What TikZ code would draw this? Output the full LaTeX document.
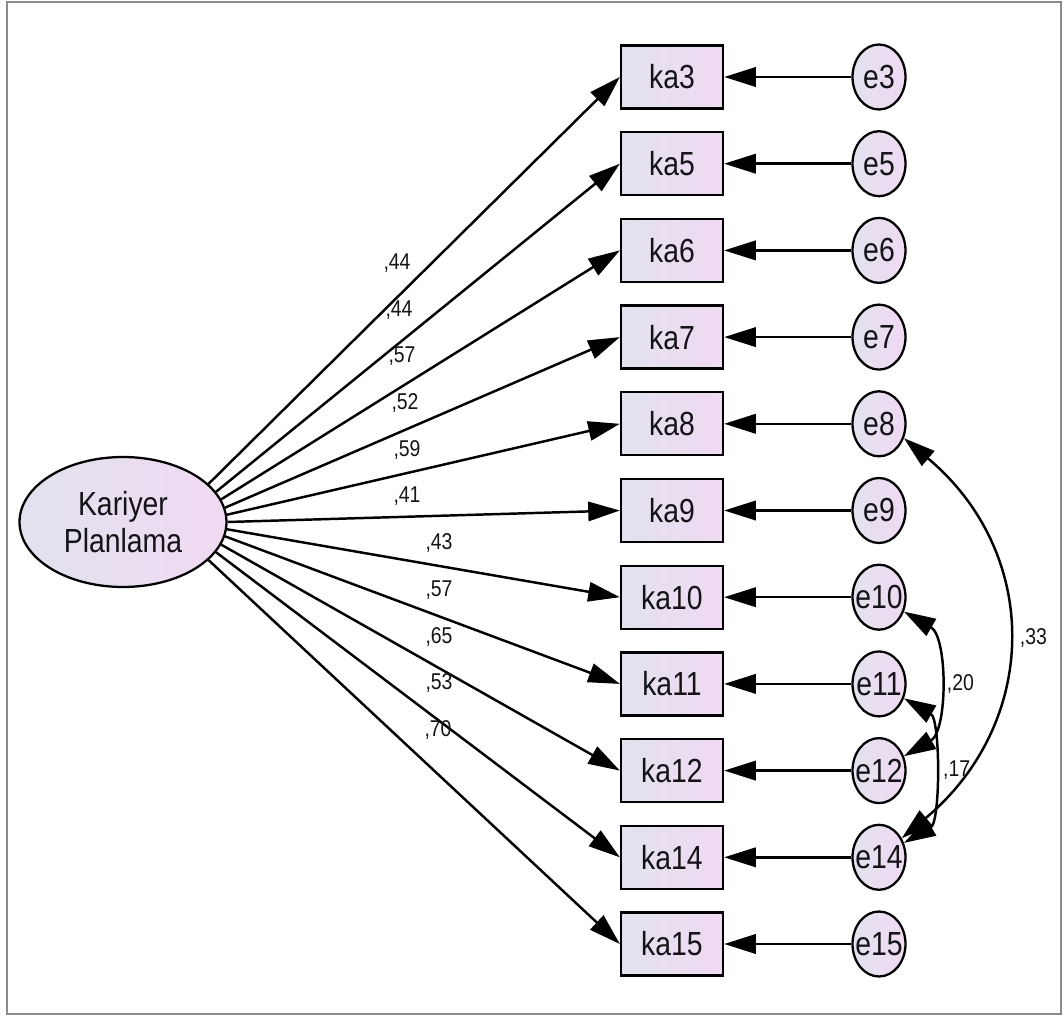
\documentclass[tikz,border=0pt]{standalone}
\usepackage{fontspec}
\setmainfont{Liberation Sans}[FakeStretch=0.85]
\usetikzlibrary{arrows.meta,shapes.geometric}

\definecolor{fillleft}{HTML}{E2E2EE}
\definecolor{fillright}{HTML}{F0DAF2}
\definecolor{ink}{HTML}{141418}
\definecolor{framegray}{HTML}{8A8A8A}

\tikzset{
    var/.style={draw, line width=1.3pt, rectangle, minimum width=2.04cm, minimum height=1.26cm,
        left color=fillleft, right color=fillright, text=ink, font=\fontsize{19}{21}\selectfont},
    err/.style={draw, line width=1.3pt, ellipse, inner sep=0pt, minimum width=1.06cm, minimum height=1.3cm,
        left color=fillleft, right color=fillright, text=ink, font=\fontsize{19}{21}\selectfont},
    latent/.style={draw, line width=1.3pt, ellipse, inner sep=0pt, minimum width=4.14cm, minimum height=2.6cm,
        left color=fillleft, right color=fillright, text=ink, align=center, font=\fontsize{19}{21}\selectfont},
    path/.style={line width=1.4pt, -{Triangle[length=18pt,width=11pt]}},
    cov/.style={line width=1.4pt, {Triangle[length=18pt,width=11pt]}-{Triangle[length=18pt,width=11pt]}},
    coef/.style={text=ink, inner sep=0pt, font=\fontsize{13}{15}\selectfont}
}

\begin{document}
\begin{tikzpicture}[x=0.02cm, y=-0.02cm]

    % Frame
    \useasboundingbox (0,0) rectangle (1063,1017);
    \draw[framegray, line width=1.2pt] (7,2) rectangle (1061,1014);

    % Latent variable
    \node[latent] (kp) at (123,522) {Kariyer\\Planlama};

    % Indicators, errors and loadings
    \foreach \n/\a/\lx/\w [count=\i from 0] in {3/24/397/{,44}, 5/18.4/399/{,44}, 6/13.2/402/{,57},
            7/8.6/405/{,52}, 8/4.2/407/{,59}, 9/0/407/{,41}, 10/-4.2/439/{,43}, 11/-8.6/439/{,57},
            12/-13.2/439/{,65}, 14/-18.4/439/{,53}, 15/-24/438/{,70}} {
        \node[var] (ka\n) at (672,{77+86.7*\i}) {ka\n};
        \node[err] (e\n) at (879,{77+86.7*\i}) {\makebox[0pt]{e\n}};
        \draw[path] (e\n.west) -- (ka\n.east);
        \draw[path] (kp.\a) -- (ka\n.west);
        \node[coef] (w\n) at (\lx,{263+46.7*\i}) {\w};
    }

    % Correlated errors
    \draw[cov] (e8.-30) to[out=-40, in=40, looseness=1.15] node[coef, right=7pt] (r33) {,33} (e14.40);
    \draw[cov] (e10.-30) to[out=-30, in=30, looseness=0.9] node[coef, right=5pt] (r20) {,20} (e12.30);
    \draw[cov] (e11.-30) to[out=-30, in=30, looseness=0.75] node[coef, right=6pt] (r17) {,17} (e14.30);

\end{tikzpicture}
\end{document}
